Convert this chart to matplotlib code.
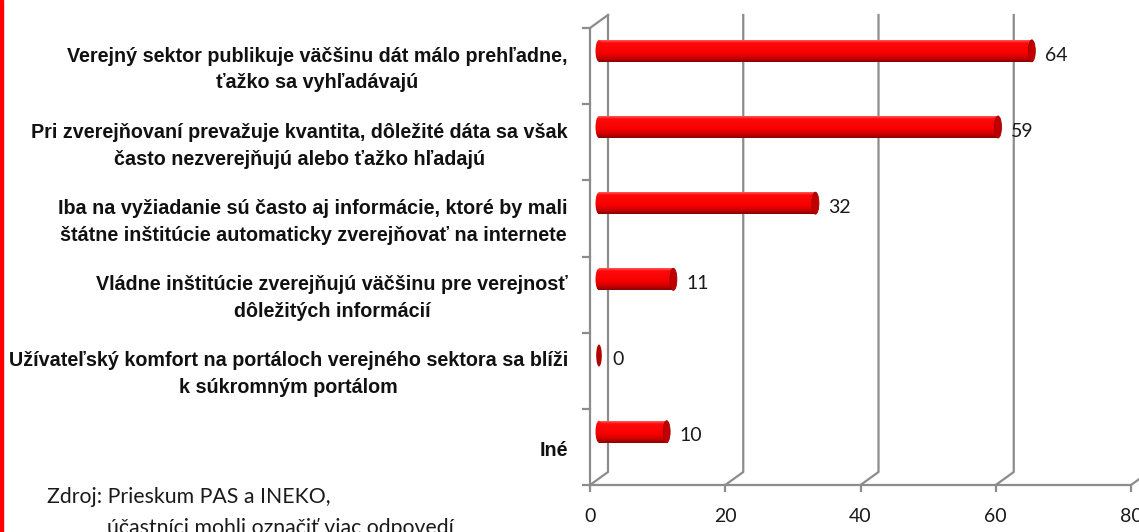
import numpy as np
import matplotlib.pyplot as plt
from matplotlib.patches import Ellipse, Rectangle
from matplotlib.colors import LinearSegmentedColormap

# Data
categories = [
    "Verejný sektor publikuje väčšinu dát málo prehľadne,\nťažko sa vyhľadávajú",
    "Pri zverejňovaní prevažuje kvantita, dôležité dáta sa však\nčasto nezverejňujú alebo ťažko hľadajú",
    "Iba na vyžiadanie sú často aj informácie, ktoré by mali\nštátne inštitúcie automaticky zverejňovať na internete",
    "Vládne inštitúcie zverejňujú väčšinu pre verejnosť\ndôležitých informácií",
    "Užívateľský komfort na portáloch verejného sektora sa blíži\nk súkromným portálom",
    "Iné",
]
values = [64, 59, 32, 11, 0, 10]
xticks = [0, 20, 40, 60, 80]
source_lines = ["Zdroj: Prieskum PAS a INEKO,", "účastníci mohli označiť viac odpovedí"]

W, H = 1139, 532
n = len(categories)
fig = plt.figure(figsize=(W / 100, H / 100), dpi=100)
ax = fig.add_axes([590 / W, 47 / H, 541 / W, 457 / H])
ax.set_xlim(0, xticks[-1])
ax.set_ylim(0, n)
ax.axis('off')

# pixel -> data helpers
PX = 541 / xticks[-1]
PY = 457 / n
DX, DY = 18 / PX, 13 / PY          # depth of the 3d box
BAR_X0 = 9 / PX
CAP_W = 7 / PX
BAR_H = 22 / PY

grid = '#8c8c8c'
lw = 1.6
num_font = dict(family=['Lato', 'DejaVu Sans'], fontsize=14, color='#1a1a1a')

# back walls / grid
for v in xticks:
    ax.plot([v, v + DX, v + DX], [0, DY, n + DY], color=grid, lw=lw, clip_on=False)
    ax.plot([v, v], [0, -6 / PY], color=grid, lw=lw, clip_on=False)
    ax.text(v, -32 / PY, str(v), ha='center', va='center', **num_font)
ax.plot([0, xticks[-1]], [0, 0], color=grid, lw=lw, clip_on=False)
ax.plot([0, 0, DX], [0, n, n + DY], color=grid, lw=lw, clip_on=False)
for k in range(n + 1):
    ax.plot([-7 / PX, 0], [k, k], color=grid, lw=lw, clip_on=False)

# cylinder bars
cmap = LinearSegmentedColormap.from_list('cyl', [
    (0.0, '#ff5a5a'), (0.12, '#ff0a0a'), (0.6, '#f60000'),
    (0.82, '#cc0000'), (1.0, '#8a0000')])
grad = np.linspace(0, 1, 64).reshape(-1, 1)

ypos = [n - i - 0.5 + 0.2 for i in range(n)]
bars = ax.barh(ypos, values, left=BAR_X0, height=BAR_H, color='none', edgecolor='none', zorder=3)
for bar, v in zip(bars, values):
    x0, y0 = bar.get_x(), bar.get_y()
    w, h = bar.get_width(), bar.get_height()
    yc = y0 + h / 2
    if w > 0:
        left_cap = Ellipse((x0, yc), CAP_W, h, facecolor='none', edgecolor='none')
        ax.add_patch(left_cap)
        for clip in (bar, left_cap):
            im = ax.imshow(grad, cmap=cmap, extent=(x0 - CAP_W, x0 + w, y0, y0 + h),
                           aspect='auto', origin='upper', zorder=3, interpolation='bilinear')
            im.set_clip_path(clip)
        ax.add_patch(Ellipse((x0 + w, yc), CAP_W, h, facecolor='#c00000',
                             edgecolor='#a00000', lw=0.6, zorder=4))
    else:
        ax.add_patch(Ellipse((x0, yc), CAP_W * 0.8, h, facecolor='#b00000',
                             edgecolor='none', zorder=4))
    ax.annotate(str(v), xy=(x0 + w + CAP_W / 2, yc), xytext=(7, -3),
                textcoords='offset points', va='center', ha='left', **num_font)

ax.set_xlim(0, xticks[-1])
ax.set_ylim(0, n)

# category labels
for i, cat in enumerate(categories):
    ax.annotate(cat, xy=(0, n - i - 0.5), xytext=(-16, -2.5), textcoords='offset points',
                ha='right', va='center', multialignment='center', linespacing=1.52,
                fontsize=14.2, fontweight='bold', family=['Liberation Sans', 'DejaVu Sans'],
                color='#111111')

# source note
src_font = dict(family=['Lato', 'DejaVu Sans'], fontsize=15.3, color='#1a1a1a', va='center')
fig.text(47 / W, 1 - 497 / H, source_lines[0], **src_font)
fig.text(107 / W, 1 - 528 / H, source_lines[1], **src_font)

# red border on the left
fig.add_artist(Rectangle((0, 0), 3 / W, 1, transform=fig.transFigure, color='#ff0000'))

plt.savefig('out.png', dpi=100)
